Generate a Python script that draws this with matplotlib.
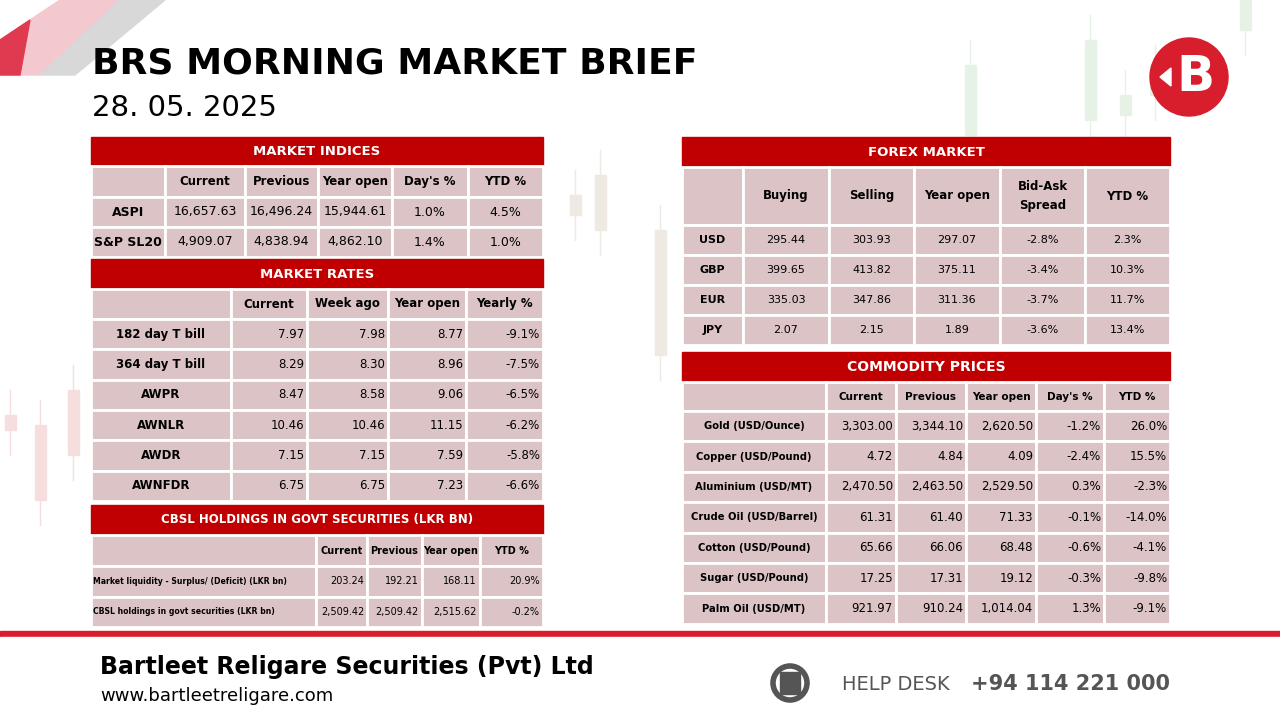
import matplotlib
matplotlib.use("Agg")
import matplotlib.pyplot as plt
from matplotlib.patches import Rectangle, Circle, Polygon

# ---------- data ----------
idx_cols = ["", "Current", "Previous", "Year open", "Day's %", "YTD %"]
idx_rows = ["ASPI", "S&P SL20"]
idx_current = ["16,657.63", "4,909.07"]
idx_previous = ["16,496.24", "4,838.94"]
idx_yearopen = ["15,944.61", "4,862.10"]
idx_day = ["1.0%", "1.4%"]
idx_ytd = ["4.5%", "1.0%"]

rate_cols = ["", "Current", "Week ago", "Year open", "Yearly %"]
rate_rows = ["182 day T bill", "364 day T bill", "AWPR", "AWNLR", "AWDR", "AWNFDR"]
rate_current = ["7.97", "8.29", "8.47", "10.46", "7.15", "6.75"]
rate_week = ["7.98", "8.30", "8.58", "10.46", "7.15", "6.75"]
rate_yearopen = ["8.77", "8.96", "9.06", "11.15", "7.59", "7.23"]
rate_yearly = ["-9.1%", "-7.5%", "-6.5%", "-6.2%", "-5.8%", "-6.6%"]

cbsl_cols = ["", "Current", "Previous", "Year open", "YTD %"]
cbsl_rows = ["Market liquidity - Surplus/ (Deficit) (LKR bn)", "CBSL holdings in govt securities (LKR bn)"]
cbsl_current = ["203.24", "2,509.42"]
cbsl_previous = ["192.21", "2,509.42"]
cbsl_yearopen = ["168.11", "2,515.62"]
cbsl_ytd = ["20.9%", "-0.2%"]

fx_cols = ["", "Buying", "Selling", "Year open", "Bid-Ask\nSpread", "YTD %"]
fx_rows = ["USD", "GBP", "EUR", "JPY"]
fx_buy = ["295.44", "399.65", "335.03", "2.07"]
fx_sell = ["303.93", "413.82", "347.86", "2.15"]
fx_yearopen = ["297.07", "375.11", "311.36", "1.89"]
fx_spread = ["-2.8%", "-3.4%", "-3.7%", "-3.6%"]
fx_ytd = ["2.3%", "10.3%", "11.7%", "13.4%"]

com_cols = ["", "Current", "Previous", "Year open", "Day's %", "YTD %"]
com_rows = ["Gold (USD/Ounce)", "Copper (USD/Pound)", "Aluminium (USD/MT)", "Crude Oil (USD/Barrel)",
            "Cotton (USD/Pound)", "Sugar (USD/Pound)", "Palm Oil (USD/MT)"]
com_current = ["3,303.00", "4.72", "2,470.50", "61.31", "65.66", "17.25", "921.97"]
com_previous = ["3,344.10", "4.84", "2,463.50", "61.40", "66.06", "17.31", "910.24"]
com_yearopen = ["2,620.50", "4.09", "2,529.50", "71.33", "68.48", "19.12", "1,014.04"]
com_day = ["-1.2%", "-2.4%", "0.3%", "-0.1%", "-0.6%", "-0.3%", "1.3%"]
com_ytd = ["26.0%", "15.5%", "-2.3%", "-14.0%", "-4.1%", "-9.8%", "-9.1%"]

RED = "#c00000"
PINK = "#dcc4c6"

fig = plt.figure(figsize=(12.8, 7.2), dpi=100)
ax = fig.add_axes([0, 0, 1, 1])
ax.set_xlim(0, 1280)
ax.set_ylim(720, 0)
ax.axis("off")

# background decoration: faint candlesticks
candles = [(595, 175, 230, "#efe9e4"), (655, 230, 355, "#efe9e4"), (965, 65, 135, "#e6f2e6"),
           (1085, 40, 120, "#e6f2e6"), (1120, 95, 115, "#e6f2e6"), (1150, 70, 95, "#e6f2e6"),
           (1240, 0, 30, "#e6f2e6"), (35, 425, 500, "#f6dede"), (68, 390, 455, "#f6dede"),
           (5, 415, 430, "#f6dede"), (570, 195, 215, "#efe9e4")]
for x, y0, y1, c in candles:
    ax.plot([x + 5, x + 5], [y0 - 25, y1 + 25], color=c, lw=1, zorder=0)
    ax.add_patch(Rectangle((x, y0), 11, y1 - y0, color=c, zorder=0))
ax.add_patch(Polygon([[0, 40], [60, 0], [120, 0], [40, 75], [0, 75]], color="#f3c9cf", zorder=0))
ax.add_patch(Polygon([[40, 75], [120, 0], [165, 0], [75, 75]], color="#d8d8d8", zorder=0))
ax.add_patch(Polygon([[0, 40], [30, 20], [20, 75], [0, 75]], color="#e03a50", zorder=0))

# title
ax.text(92, 64, "BRS MORNING MARKET BRIEF", fontsize=26, fontweight="bold", color="black", va="center")
ax.text(92, 108, "28. 05. 2025", fontsize=21, color="black", va="center")

# logo
ax.add_patch(Circle((1189, 77), 39, color="#d81e2c", zorder=3))
ax.text(1195, 77, "B", fontsize=36, fontweight="bold", color="white", ha="center", va="center", zorder=4)
ax.add_patch(Polygon([[1160, 77], [1171, 68], [1171, 86]], color="white", zorder=4))

def table(title, x_edges, y_top, header_h, col_h, row_h, cols, rows, data, fs=9.5, label_fs=9, hdr_fs=9.5,
          title_fs=9.5, align="right"):
    x0, x1 = x_edges[0], x_edges[-1]
    ax.add_patch(Rectangle((x0, y_top), x1 - x0, header_h, color=RED, zorder=2))
    ax.text((x0 + x1) / 2, y_top + header_h / 2, title, color="white", fontsize=title_fs, fontweight="bold",
            ha="center", va="center", zorder=3)
    y = y_top + header_h
    heights = [col_h] + [row_h] * len(rows)
    for r, h in enumerate(heights):
        for c in range(len(x_edges) - 1):
            ax.add_patch(Rectangle((x_edges[c], y), x_edges[c + 1] - x_edges[c], h, facecolor=PINK,
                                   edgecolor="white", lw=2, zorder=2))
            cx = (x_edges[c] + x_edges[c + 1]) / 2
            if r == 0:
                ax.text(cx, y + h / 2, cols[c], fontsize=hdr_fs, fontweight="bold", ha="center", va="center",
                        zorder=3, linespacing=1.6)
            elif c == 0:
                lab = rows[r - 1]
                if label_fs < 7:
                    ax.text(x_edges[0] + 2, y + h / 2, lab, fontsize=label_fs, fontweight="bold",
                            ha="left", va="center", zorder=3)
                else:
                    ax.text(cx, y + h / 2, lab, fontsize=label_fs, fontweight="bold", ha="center",
                            va="center", zorder=3)
            else:
                if align == "center":
                    ax.text(cx, y + h / 2, data[c - 1][r - 1], fontsize=fs, ha="center", va="center", zorder=3)
                else:
                    ax.text(x_edges[c + 1] - 3, y + h / 2, data[c - 1][r - 1], fontsize=fs, ha="right",
                            va="center", zorder=3)
        y += h

table("MARKET INDICES", [91, 165, 245, 318, 392, 468, 543], 137, 29, 31, 30, idx_cols, idx_rows,
      [idx_current, idx_previous, idx_yearopen, idx_day, idx_ytd], fs=9, label_fs=9, hdr_fs=8.5, align="center")
table("MARKET RATES", [91, 231, 307, 388, 466, 543], 259, 30, 30, 30.3, rate_cols, rate_rows,
      [rate_current, rate_week, rate_yearopen, rate_yearly], fs=8.5, label_fs=8.5, hdr_fs=8.5)
table("CBSL HOLDINGS IN GOVT SECURITIES (LKR BN)", [91, 316, 367, 422, 480, 543], 505, 30, 31, 30.5,
      cbsl_cols, cbsl_rows, [cbsl_current, cbsl_previous, cbsl_yearopen, cbsl_ytd], fs=7, label_fs=5.6,
      hdr_fs=7, title_fs=8.5)
table("FOREX MARKET", [682, 743, 829, 914, 1000, 1085, 1170], 137, 30, 58, 30, fx_cols, fx_rows,
      [fx_buy, fx_sell, fx_yearopen, fx_spread, fx_ytd], fs=8, label_fs=8, hdr_fs=8.5, align="center")
table("COMMODITY PRICES", [682, 826, 896, 966, 1036, 1104, 1170], 352, 30, 29, 30.4, com_cols, com_rows,
      [com_current, com_previous, com_yearopen, com_day, com_ytd], fs=8.5, label_fs=7.2, hdr_fs=7.5,
      title_fs=10)

# footer
ax.add_patch(Rectangle((0, 631), 1280, 6, color="#d81e2c", zorder=2))
ax.add_patch(Rectangle((0, 637), 1280, 83, color="white", zorder=2))
ax.text(100, 667, "Bartleet Religare Securities (Pvt) Ltd", fontsize=17, fontweight="bold", va="center", zorder=3)
ax.text(100, 696, "www.bartleetreligare.com", fontsize=13, va="center", zorder=3)
ax.add_patch(Circle((790, 683), 17, facecolor="none", edgecolor="#555555", lw=4, zorder=3))
ax.add_patch(Rectangle((780, 672), 20, 22, color="#555555", zorder=3))
ax.text(842, 684, "HELP DESK", fontsize=14, color="#555555", va="center", zorder=3)
ax.text(1170, 684, "+94 114 221 000", fontsize=15, fontweight="bold", color="#555555", va="center",
        ha="right", zorder=3)

fig.savefig("out.png", dpi=100)
